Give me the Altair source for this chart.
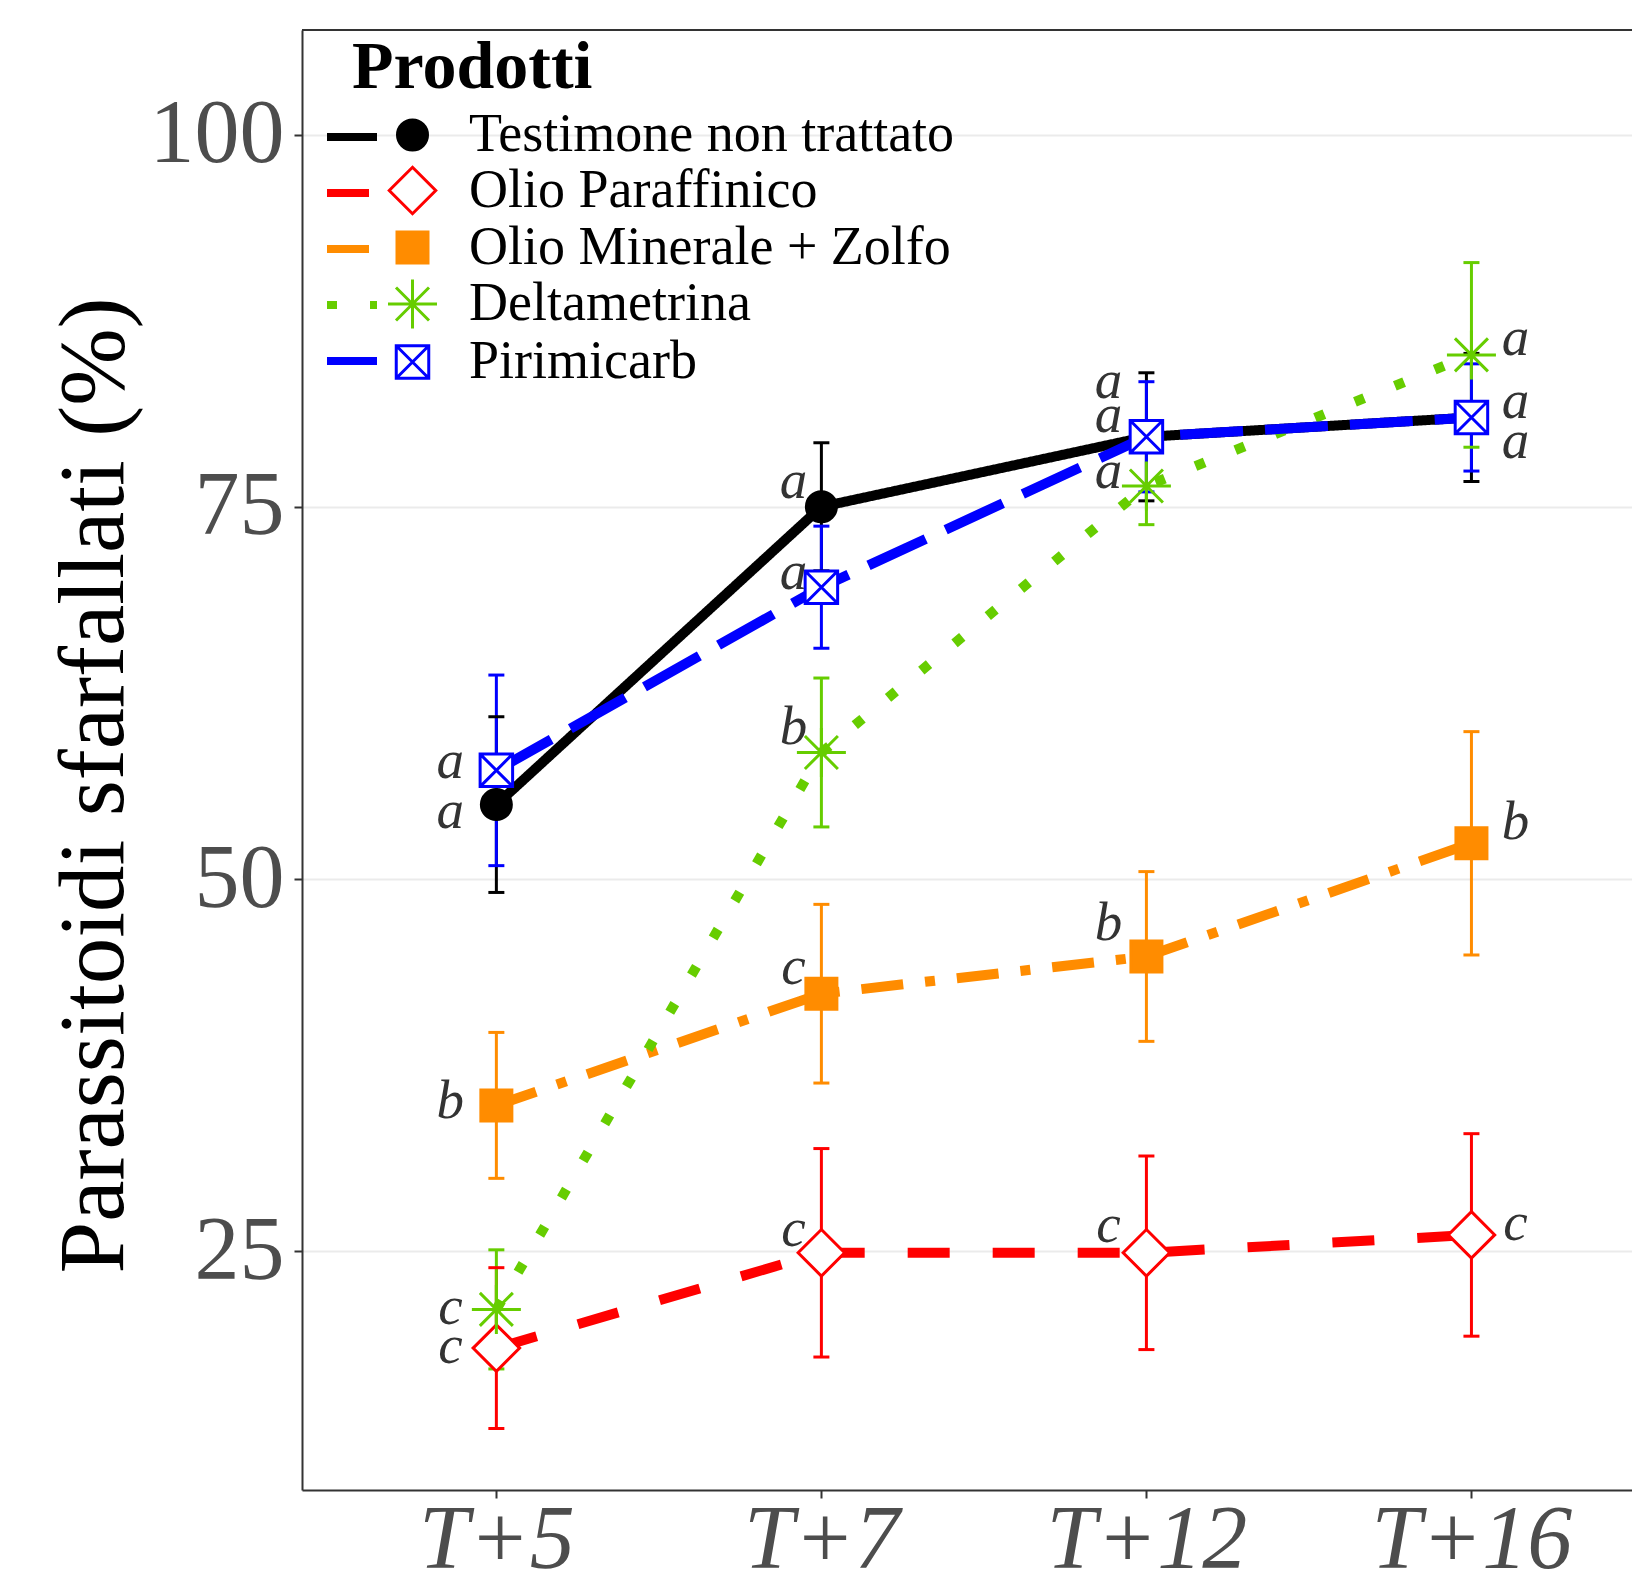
import altair as alt
import pandas as pd

# ---------------- data ----------------
times = ["T+5", "T+7", "T+12", "T+16"]
products = ["Testimone non trattato", "Olio Paraffinico", "Olio Minerale + Zolfo",
            "Deltametrina", "Pirimicarb"]

testimone = [55.0, 75.0, 79.7, 81.0]
paraffinico = [18.5, 24.9, 24.9, 26.1]
minerale = [34.8, 42.3, 44.8, 52.4]
deltametrina = [21.1, 58.5, 76.4, 85.2]
pirimicarb = [57.3, 69.6, 79.7, 81.0]

testimone_se = [5.9, 4.3, 4.3, 4.3]
paraffinico_se = [5.4, 7.0, 6.5, 6.8]
minerale_se = [4.9, 6.0, 5.7, 7.5]
deltametrina_se = [4.0, 5.0, 2.6, 6.2]
pirimicarb_se = [6.4, 4.1, 3.7, 3.6]

testimone_letters = ["a", "a", "a", "a"]
paraffinico_letters = ["c", "c", "c", "c"]
minerale_letters = ["b", "c", "b", "b"]
deltametrina_letters = ["c", "b", "a", "a"]
pirimicarb_letters = ["a", "a", "a", "a"]

# where each letter sits (in data units)
testimone_label_y = [54.45, 76.6, 83.3, 79.3]
paraffinico_label_y = [18.5, 26.35, 26.6, 26.8]
minerale_label_y = [34.95, 43.96, 46.9, 53.7]
deltametrina_label_y = [21.1, 60.1, 77.3, 86.2]
pirimicarb_label_y = [57.8, 70.5, 81.0, 82.0]

means = [testimone, paraffinico, minerale, deltametrina, pirimicarb]
ses = [testimone_se, paraffinico_se, minerale_se, deltametrina_se, pirimicarb_se]
letters = [testimone_letters, paraffinico_letters, minerale_letters,
           deltametrina_letters, pirimicarb_letters]
label_ys = [testimone_label_y, paraffinico_label_y, minerale_label_y,
            deltametrina_label_y, pirimicarb_label_y]

rows = []
for i, p in enumerate(products):
    for j, t in enumerate(times):
        rows.append({
            "Prodotti": p, "Prodotti2": p, "pidx": i, "time": t, "tidx": j,
            "value": means[i][j],
            "lo": means[i][j] - ses[i][j], "hi": means[i][j] + ses[i][j],
            "letter": letters[i][j], "label_y": label_ys[i][j],
        })
df = pd.DataFrame(rows)

# ---------------- styles ----------------
SERIF = "Liberation Serif"
colors = ["#000000", "#FF0000", "#FF8C00", "#66CD00", "#0000FF"]
fills = ["#000000", "#FFFFFF", "#FF8C00", "transparent", "#FFFFFF"]
dashes = [[1, 0], [42, 43], [42, 22, 10, 22], [10, 33], [63, 22]]
shapes = [
    "M-0.6,0A0.6,0.6,0,1,0,0.6,0A0.6,0.6,0,1,0,-0.6,0Z",
    "M0,-0.93L0.93,0L0,0.93L-0.93,0Z",
    "M-0.62,-0.62L0.62,-0.62L0.62,0.62L-0.62,0.62Z",
    "M-0.98,0L0.98,0M0,-0.98L0,0.98M-0.66,-0.66L0.66,0.66M-0.66,0.66L0.66,-0.66",
    "M-0.65,-0.65L0.65,-0.65L0.65,0.65L-0.65,0.65ZM-0.65,-0.65L0.65,0.65M-0.65,0.65L0.65,-0.65",
]
label_dx = [-46, -28, -38, 44]

W, H = 1330, 1460

label_expr = "[" + ",".join("'%s'" % t for t in times) + "][datum.value]"
color_expr = "[" + ",".join("'%s'" % c for c in colors) + "][datum.pidx]"

x_axis = alt.Axis(values=list(range(len(times))), labelExpr=label_expr, title=None,
                  grid=False, labelFontStyle="italic", labelPadding=-2,
                  labelFontSize=90, labelLimit=1000)
x_scale = alt.Scale(domain=[-0.598, 3.494], nice=False, zero=False)
y_axis = alt.Axis(values=[25, 50, 75, 100], title="Parassitoidi sfarfallati (%)",
                  grid=True, gridColor="#EBEBEB", gridWidth=2, labelPadding=10,
                  labelFontSize=90, labelLimit=1000, titleFont=SERIF, titleFontSize=93,
                  titleFontWeight="normal", titleColor="#000000", titleAngle=270,
                  titleX=-180, titleY=755, titleAlign="center",
                  titleBaseline="alphabetic", titleLimit=3000)
y_scale = alt.Scale(domain=[8.97, 107.02], nice=False, zero=False)


def X():
    return alt.X("tidx:Q", scale=x_scale, axis=x_axis)


def Y(field):
    return alt.Y(field, scale=y_scale, axis=y_axis)


order_sort = alt.EncodingSortField(field="pidx", op="min")

# line-key legend: only the line segments are shown (labels blank, same row height)
legend_lines = alt.Legend(
    orient="none", legendX=21, legendY=78, title=None,
    symbolType="stroke", symbolSize=2500, symbolStrokeWidth=8, symbolOpacity=1,
    labelFont=SERIF, labelFontSize=54, labelOpacity=0, labelOffset=10,
    labelExpr="' '", rowPadding=-1.5, padding=0, labelLimit=1000)

legend_points = alt.Legend(
    orient="none", legendX=83.5, legendY=78, title=None,
    symbolSize=2500, symbolStrokeWidth=3, symbolOpacity=1,
    labelFont=SERIF, labelFontSize=54, labelColor="#000000", labelOffset=29.5,
    rowPadding=-1.5, padding=0, labelLimit=1000)

base = alt.Chart(df)
ebase = base.transform_calculate(ecol=color_expr)
ecolor = alt.Color("ecol:N", scale=None)

errbars = ebase.mark_rule(strokeWidth=3).encode(
    x=X(), y=Y("lo:Q"), y2="hi:Q", color=ecolor,
)
caps_lo = ebase.mark_tick(orient="horizontal", size=16, thickness=3, opacity=1).encode(
    x=X(), y=Y("lo:Q"), color=ecolor,
)
caps_hi = ebase.mark_tick(orient="horizontal", size=16, thickness=3, opacity=1).encode(
    x=X(), y=Y("hi:Q"), color=ecolor,
)

lines = base.mark_line(strokeWidth=10, strokeCap="butt", opacity=1,
                       strokeOpacity=1).encode(
    x=X(), y=Y("value:Q"),
    color=alt.Color("Prodotti:N", sort=order_sort, scale=alt.Scale(range=colors),
                    legend=legend_lines),
    strokeDash=alt.StrokeDash("Prodotti:N", sort=order_sort,
                              scale=alt.Scale(range=dashes), legend=legend_lines),
    order="tidx:Q",
)

points = base.mark_point(strokeWidth=3, opacity=1, size=2500).encode(
    x=X(), y=Y("value:Q"),
    shape=alt.Shape("Prodotti2:N", sort=order_sort, scale=alt.Scale(range=shapes),
                    legend=legend_points),
    fill=alt.Fill("Prodotti2:N", sort=order_sort, scale=alt.Scale(range=fills),
                  legend=legend_points),
    stroke=alt.Stroke("Prodotti2:N", sort=order_sort, scale=alt.Scale(range=colors),
                      legend=legend_points),
)

texts = []
for j, t in enumerate(times):
    texts.append(
        base.transform_filter(alt.datum.tidx == j)
        .mark_text(font=SERIF, fontSize=55, fontStyle="italic", color="#333333",
                   align="center", baseline="middle", dx=label_dx[j], dy=-2)
        .encode(x=X(), y=Y("label_y:Q"), text="letter:N")
    )

top_border = alt.Chart(df).mark_rule(color="#333333", strokeWidth=2).encode(
    x=alt.value(0), x2=alt.value(W), y=alt.value(0)
)

legend_title = alt.TitleParams(
    text="Prodotti", anchor="start", frame="group", orient="top",
    font=SERIF, fontSize=68, fontWeight="bold", color="#000000",
    baseline="alphabetic", offset=0, dx=50, dy=127,
)

chart = alt.layer(errbars, caps_lo, caps_hi, lines, points, *texts, top_border).properties(
    title=legend_title,
    width=W, height=H,
    autosize=alt.AutoSizeParams(type="none"),
    padding={"left": 294, "top": 22, "right": 0, "bottom": 80},
).configure_view(stroke=None).configure_axis(
    domainColor="#333333", domainWidth=2, tickColor="#333333", tickWidth=2,
    tickSize=8, labelFont=SERIF, labelColor="#4D4D4D",
).configure_legend(symbolOpacity=1)

chart.save("out.html", embed_options={"renderer": "svg", "actions": False})
